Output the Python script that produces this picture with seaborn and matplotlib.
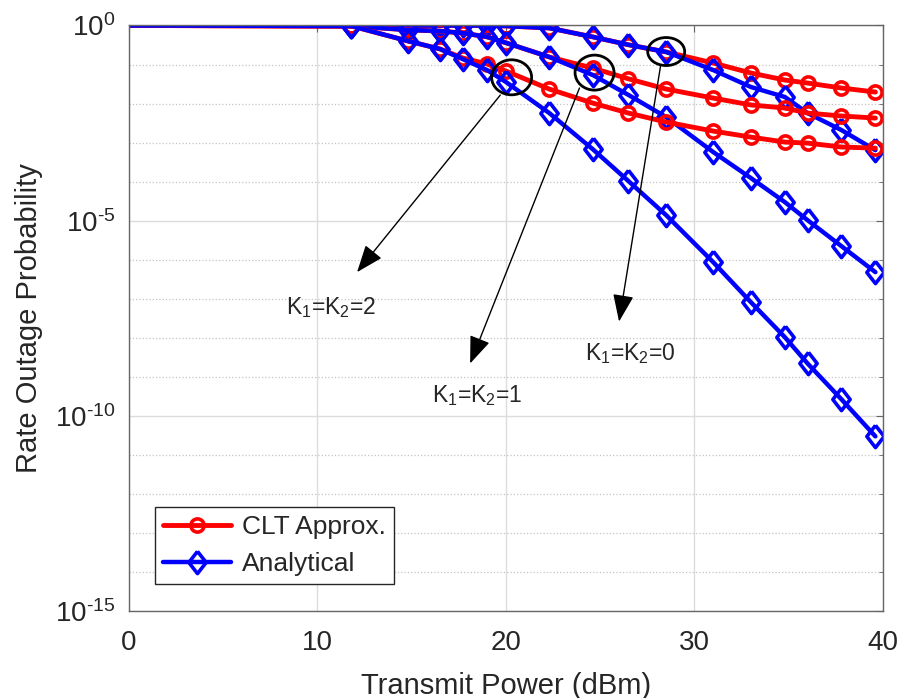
import math
import matplotlib
matplotlib.use("Agg")
import matplotlib.pyplot as plt
import matplotlib.ticker as mticker
import matplotlib.transforms as mtransforms
from matplotlib.patches import Ellipse
from matplotlib.lines import Line2D
import seaborn as sns

# transmit power points (dBm), first point only anchors the flat start of the lines
power_dbm = [0, 11.8, 14.8, 16.5, 17.7, 19.0, 20.0, 22.3, 24.6, 26.5, 28.5,
             31.0, 33.0, 34.8, 36.0, 37.8, 39.6]

clt_k0 = [1.0, 0.97, 1.0, 1.0, 1.0, 1.0, 0.97, 0.86, 0.51, 0.32, 0.21,
          0.109, 0.0605, 0.040, 0.0335, 0.025, 0.0197]
ana_k0 = [1.0, 0.97, 1.0, 1.0, 1.0, 1.0, 0.97, 0.86, 0.51, 0.32, 0.21,
          0.072, 0.0265, 0.0147, 0.0057, 0.00209, 0.00064]
clt_k1 = [1.0, 0.97, 0.77, 0.72, 0.64, 0.51, 0.36, 0.156, 0.081, 0.043, 0.0235,
          0.0138, 0.0092, 0.0077, 0.0057, 0.0048, 0.00425]
ana_k1 = [1.0, 0.97, 0.77, 0.72, 0.64, 0.51, 0.36, 0.156, 0.054, 0.0166, 0.0045,
          0.00057, 1.23e-4, 2.98e-5, 1.03e-5, 2.22e-6, 4.8e-7]
clt_k2 = [1.0, 0.97, 0.40, 0.25, 0.147, 0.103, 0.068, 0.0235, 0.0103, 0.0057, 0.00336,
          0.00197, 0.00138, 0.00103, 0.00097, 0.00077, 0.00072]
ana_k2 = [1.0, 0.97, 0.40, 0.25, 0.138, 0.072, 0.0356, 0.0057, 0.00068, 1.03e-4, 1.38e-5,
          8.6e-7, 8.1e-8, 1.03e-8, 2.2e-9, 2.65e-10, 2.98e-11]

series_labels = ['CLT Approx.', 'Analytical']
k_labels = ['K$_1$=K$_2$=0', 'K$_1$=K$_2$=1', 'K$_1$=K$_2$=2']

sns.set_style("white")
plt.rcParams['font.family'] = ['Liberation Sans', 'DejaVu Sans']
plt.rcParams['mathtext.fontset'] = 'custom'
plt.rcParams['mathtext.rm'] = 'Liberation Sans'
plt.rcParams['mathtext.it'] = 'Liberation Sans'
plt.rcParams['mathtext.bf'] = 'Liberation Sans:bold'
plt.rcParams['axes.unicode_minus'] = False

fig = plt.figure(figsize=(9.04, 6.98), dpi=100)
ax = fig.add_axes([0.1427, 0.1246, 0.834, 0.8389])
ax.set_yscale('log')

# MATLAB-like diamond: a bit taller than wide
diamond = [(0, 1), (0.78, 0), (0, -1), (-0.78, 0), (0, 1)]
styles = {'CLT Approx.': ('red', 'o', 9.5, 3.5), 'Analytical': ('blue', diamond, 16, 3.2)}
curves = [(clt_k0, 'CLT Approx.'), (ana_k0, 'Analytical'),
          (clt_k1, 'CLT Approx.'), (ana_k1, 'Analytical'),
          (clt_k2, 'CLT Approx.'), (ana_k2, 'Analytical')]
marks = list(range(1, len(power_dbm)))

for vals, name in curves:
    color, marker, msize, lw = styles[name]
    sns.lineplot(x=power_dbm, y=vals, ax=ax, color=color, linewidth=lw,
                 marker=marker, markersize=msize, markerfacecolor='none',
                 markeredgecolor=color, markeredgewidth=2.6, markevery=marks,
                 estimator=None, sort=False)

ax.set_xlim(0, 40)
ax.set_ylim(1e-15, 1e0)
ax.xaxis.set_major_locator(mticker.MultipleLocator(10))
ax.yaxis.set_major_locator(mticker.FixedLocator([1e0, 1e-5, 1e-10, 1e-15]))
ax.yaxis.set_minor_locator(mticker.FixedLocator([10.0 ** -k for k in range(16)]))
ax.yaxis.set_minor_formatter(mticker.NullFormatter())
ax.yaxis.set_major_formatter(mticker.FuncFormatter(
    lambda v, p: r'10$^{\text{%d}}$' % round(math.log10(v))))

ax.grid(True, which='major', color='#dcdcdc', lw=1, ls='-')
ax.grid(True, which='minor', axis='y', color='#c4c4c4', lw=0.9, ls=':')
ax.set_axisbelow(True)
for sp in ax.spines.values():
    sp.set_color('#666666')
    sp.set_linewidth(1)
ax.tick_params(which='both', direction='in', top=True, right=True,
               colors='#666666', labelcolor='#262626')
ax.tick_params(which='major', length=5, labelsize=20)
ax.tick_params(axis='x', which='major', pad=14)
ax.tick_params(axis='y', which='major', pad=10)
ax.tick_params(which='minor', length=3)

ax.set_xlabel('Transmit Power (dBm)', fontsize=21, color='#262626', labelpad=11)
ax.set_ylabel('Rate Outage Probability', fontsize=21, color='#262626', labelpad=8)

# circles around the points where the curves split
def ring(xd, yd, w_px, h_px):
    tr = fig.dpi_scale_trans + mtransforms.ScaledTranslation(xd, yd, ax.transData)
    ax.add_patch(Ellipse((0, 0), w_px / 100, h_px / 100, transform=tr,
                         fill=False, ec='black', lw=2, zorder=5))

ring(28.5, 0.215, 37, 28)
ring(24.7, 0.062, 39, 35)
ring(20.3, 0.047, 40, 35)

arrow = dict(arrowstyle='-|>,head_length=0.65,head_width=0.25', color='black',
             lw=1, mutation_scale=26, shrinkA=0, shrinkB=0)
ax.annotate('', xy=(26.0, 2.6e-8), xytext=(28.2, 0.091), arrowprops=arrow)
ax.annotate('', xy=(18.1, 2.2e-9), xytext=(23.9, 0.025), arrowprops=arrow)
ax.annotate('', xy=(12.1, 4.8e-7), xytext=(19.7, 0.0165), arrowprops=arrow)

ax.text(26.6, 4e-9, k_labels[0], ha='center', va='center', fontsize=16.5)
ax.text(18.5, 3.4e-10, k_labels[1], ha='center', va='center', fontsize=16.5)
ax.text(10.7, 6e-8, k_labels[2], ha='center', va='center', fontsize=16.5)

handles = [Line2D([], [], color=styles[n][0], lw=styles[n][3], marker=styles[n][1],
                  markersize=styles[n][2], markerfacecolor='none',
                  markeredgecolor=styles[n][0], markeredgewidth=2.6)
           for n in series_labels]
leg = ax.legend(handles, series_labels, loc='lower left',
                bbox_to_anchor=(0.034, 0.046), fontsize=19, handlelength=2.6,
                labelspacing=0.5, borderpad=0.3, handletextpad=0.4,
                fancybox=False, framealpha=1, edgecolor='#262626', borderaxespad=0)
leg.get_frame().set_linewidth(1)

fig.savefig('out.png', dpi=100)
